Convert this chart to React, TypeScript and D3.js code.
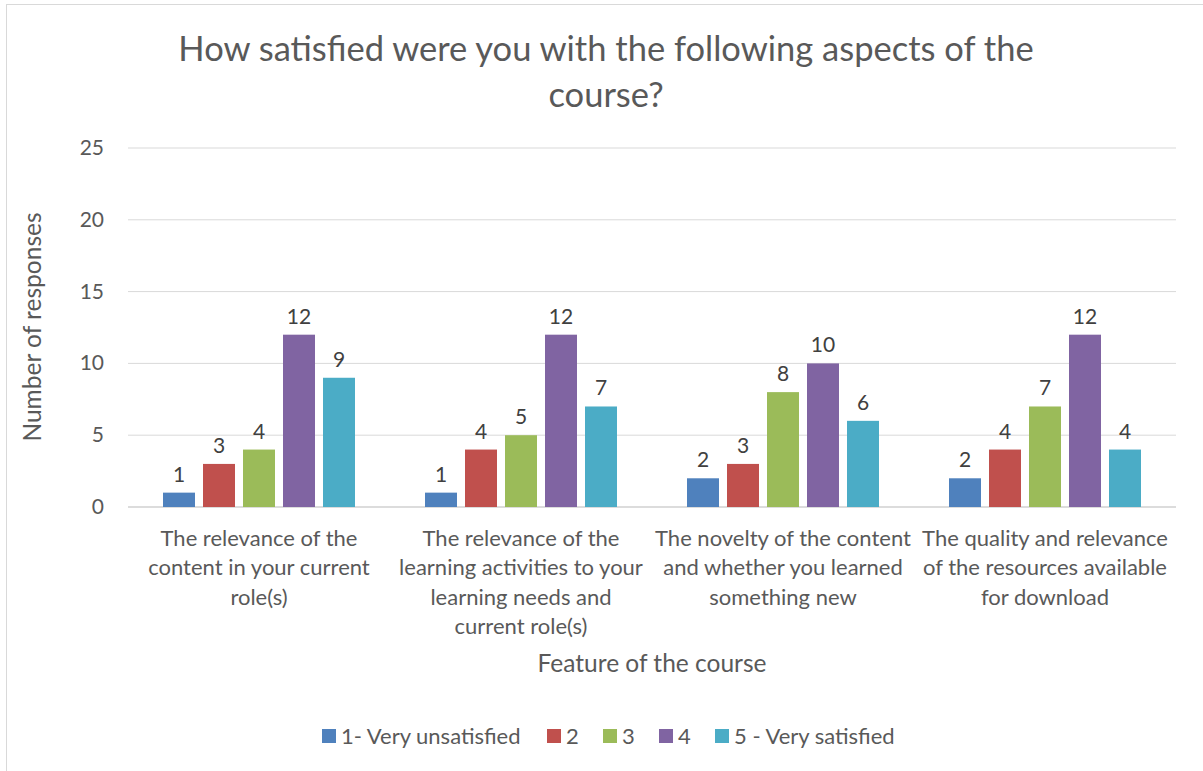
import React from "react";
import * as d3 from "d3";

const categories = [
  ["The relevance of the", "content in your current", "role(s)"],
  ["The relevance of the", "learning activities to your", "learning needs and", "current role(s)"],
  ["The novelty of the content", "and whether you learned", "something new"],
  ["The quality and relevance", "of the resources available", "for download"],
];
const seriesNames = ["1- Very unsatisfied", "2", "3", "4", "5 - Very satisfied"];
const seriesColors = ["#4F81BD", "#C0504D", "#9BBB59", "#8064A2", "#4BACC6"];
const values = [
  [1, 1, 2, 2],
  [3, 4, 3, 4],
  [4, 5, 8, 7],
  [12, 12, 10, 12],
  [9, 7, 6, 4],
];
const yTicks = [0, 5, 10, 15, 20, 25];

const W = 1203;
const H = 771;
const FONT = "Lato, 'Open Sans', sans-serif";
const TXT = "#595959";

export default function App() {
  const left = 128, right = 1176, top = 148, bottom = 507;
  const x0 = d3.scaleBand<number>().domain(categories.map((_, i) => i)).range([left, right]).paddingInner(0).paddingOuter(0);
  const y = d3.scaleLinear().domain([0, 25]).range([bottom, top]);
  const groupPad = 35;
  const x1 = d3.scaleBand<number>().domain(seriesNames.map((_, i) => i))
    .range([groupPad, x0.bandwidth() - groupPad]).paddingInner(0.2).paddingOuter(0);

  const legendX = [322, 547, 603, 659, 715];

  return (
    <svg width={W} height={H} style={{ position: "absolute", left: 0, top: 0 }}>
      <rect x={0} y={0} width={W} height={H} fill="#fff" />
      <rect x={6.5} y={4.5} width={1300} height={900} fill="#fff" stroke="#D9D9D9" />
      <text x={606} y={61} textAnchor="middle" fontFamily={FONT} fontSize={34.5} fill={TXT}>
        How satisfied were you with the following aspects of the
      </text>
      <text x={606} y={107} textAnchor="middle" fontFamily={FONT} fontSize={34.5} fill={TXT}>
        course?
      </text>
      {yTicks.map((t) => (
        <g key={t}>
          <line x1={left} x2={right} y1={y(t)} y2={y(t)} stroke={t === 0 ? "#D0D0D0" : "#D9D9D9"} strokeWidth={t === 0 ? 1.5 : 1} />
          <text x={104} y={y(t) + 7} textAnchor="end" fontFamily={FONT} fontSize={21} fill={TXT}>{t}</text>
        </g>
      ))}
      <text transform={`translate(41,327) rotate(-90)`} textAnchor="middle" fontFamily={FONT} fontSize={24.5} fill={TXT}>
        Number of responses
      </text>
      {categories.map((lines, ci) => (
        <g key={ci}>
          {seriesNames.map((_, si) => {
            const v = values[si][ci];
            const bx = (x0(ci) as number) + (x1(si) as number);
            return (
              <g key={si}>
                <rect x={bx} y={y(v)} width={x1.bandwidth()} height={y(0) - y(v)} fill={seriesColors[si]} />
                <text x={bx + x1.bandwidth() / 2} y={y(v) - 11} textAnchor="middle" fontFamily={FONT} fontSize={21} fill="#404040">{v}</text>
              </g>
            );
          })}
          {lines.map((ln, li) => (
            <text key={li} x={(x0(ci) as number) + x0.bandwidth() / 2} y={546 + li * 29.4} textAnchor="middle" fontFamily={FONT} fontSize={22} fill={TXT}>{ln}</text>
          ))}
        </g>
      ))}
      <text x={652} y={672} textAnchor="middle" fontFamily={FONT} fontSize={24.5} fill={TXT}>Feature of the course</text>
      {seriesNames.map((n, i) => (
        <g key={n}>
          <rect x={legendX[i]} y={729} width={14} height={14} fill={seriesColors[i]} />
          <text x={legendX[i] + 19} y={744} fontFamily={FONT} fontSize={22} fill={TXT}>{n}</text>
        </g>
      ))}
    </svg>
  );
}
